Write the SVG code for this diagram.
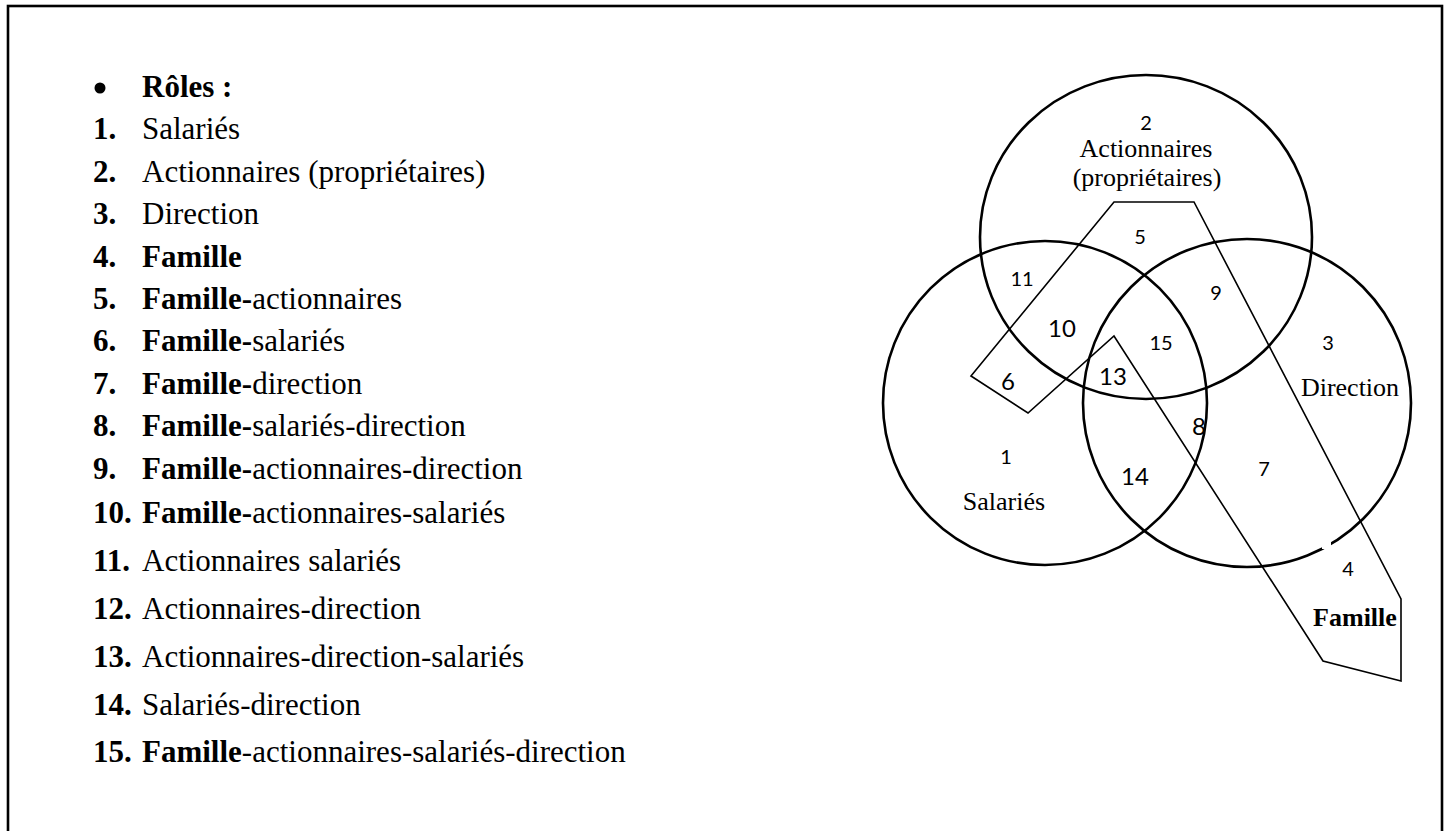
<svg xmlns="http://www.w3.org/2000/svg" width="1450" height="831" viewBox="0 0 1450 831">
  <style>
    .list { font-family: "Liberation Serif", "Times New Roman", serif; font-size: 31px; fill: #000; }
    .b { font-weight: bold; }
    .set { fill: none; stroke: #000; stroke-width: 2.6; }
    .fam { fill: none; stroke: #000; stroke-width: 1.6; stroke-linejoin: miter; }
    .num { font-family: Lato, "Liberation Sans", sans-serif; fill: #000; text-anchor: middle; }
    .sm { font-size: 20px; }
    .lg { font-size: 24px; }
    .name { font-family: "Liberation Serif", "Times New Roman", serif; font-size: 26px; fill: #000; text-anchor: middle; }
  </style>

  <rect width="1450" height="831" fill="#fff"/>
  <!-- page frame (bottom edge runs off the page) -->
  <rect x="8" y="6" width="1434" height="840" fill="none" stroke="#000" stroke-width="2.6"/>

  <!-- legend list -->
  <g id="legend" class="list">
    <circle cx="100" cy="88" r="5.5" fill="#000"/>
    <text x="142" y="97" class="b">Rôles :</text>
    <text y="139"><tspan x="93" class="b">1.</tspan><tspan x="142">Salariés</tspan></text>
    <text y="182"><tspan x="93" class="b">2.</tspan><tspan x="142">Actionnaires (propriétaires)</tspan></text>
    <text y="224"><tspan x="93" class="b">3.</tspan><tspan x="142">Direction</tspan></text>
    <text y="267"><tspan x="93" class="b">4.</tspan><tspan x="142" class="b">Famille</tspan></text>
    <text y="309"><tspan x="93" class="b">5.</tspan><tspan x="142" class="b">Famille-</tspan><tspan>actionnaires</tspan></text>
    <text y="351"><tspan x="93" class="b">6.</tspan><tspan x="142" class="b">Famille-</tspan><tspan>salariés</tspan></text>
    <text y="394"><tspan x="93" class="b">7.</tspan><tspan x="142" class="b">Famille-</tspan><tspan>direction</tspan></text>
    <text y="436"><tspan x="93" class="b">8.</tspan><tspan x="142" class="b">Famille-</tspan><tspan>salariés-direction</tspan></text>
    <text y="479"><tspan x="93" class="b">9.</tspan><tspan x="142" class="b">Famille-</tspan><tspan>actionnaires-direction</tspan></text>
    <text y="523"><tspan x="93" class="b">10.</tspan><tspan x="142" class="b">Famille-</tspan><tspan>actionnaires-salariés</tspan></text>
    <text y="571"><tspan x="93" class="b">11.</tspan><tspan x="142">Actionnaires salariés</tspan></text>
    <text y="619"><tspan x="93" class="b">12.</tspan><tspan x="142">Actionnaires-direction</tspan></text>
    <text y="667"><tspan x="93" class="b">13.</tspan><tspan x="142">Actionnaires-direction-salariés</tspan></text>
    <text y="715"><tspan x="93" class="b">14.</tspan><tspan x="142">Salariés-direction</tspan></text>
    <text y="762"><tspan x="93" class="b">15.</tspan><tspan x="142" class="b">Famille</tspan><tspan>-actionnaires-salariés-direction</tspan></text>
  </g>

  <!-- role sets -->
  <g id="set-actionnaires">
    <ellipse class="set" cx="1146" cy="237" rx="166" ry="162"/>
  </g>
  <g id="set-salaries">
    <circle class="set" cx="1045" cy="403" r="162"/>
  </g>
  <g id="set-direction">
    <circle class="set" cx="1247" cy="403" r="164"/>
    <!-- small break in the outline under the label 4 -->
    <rect x="1322" y="541" width="9" height="8" fill="#fff"/>
  </g>
  <g id="set-famille">
    <polygon class="fam" points="971,376 1114,202 1194,202 1401,599 1401,681 1323,661 1114,336 1028,413"/>
  </g>

  <!-- set names -->
  <g id="names">
    <text class="num sm" x="1146" y="130">2</text>
    <text class="name" x="1146" y="157">Actionnaires</text>
    <text class="name" x="1147" y="186">(propriétaires)</text>
    <text class="num sm" x="1328" y="350">3</text>
    <text class="name" x="1350" y="396">Direction</text>
    <text class="num sm" x="1006" y="464">1</text>
    <text class="name" x="1004" y="510">Salariés</text>
    <text class="num sm" x="1348" y="576">4</text>
    <text class="name" x="1355" y="626" font-weight="bold">Famille</text>
  </g>

  <!-- region numbers -->
  <g id="regions">
    <text class="num sm" x="1140" y="244">5</text>
    <text class="num sm" x="1022" y="286">11</text>
    <text class="num lg" x="1062" y="337">10</text>
    <text class="num lg" x="1008" y="390">6</text>
    <text class="num lg" x="1113" y="385">13</text>
    <text class="num sm" x="1161" y="350">15</text>
    <text class="num sm" x="1216" y="300">9</text>
    <text class="num lg" x="1199" y="435">8</text>
    <text class="num lg" x="1135" y="485">14</text>
    <text class="num sm" x="1264" y="476">7</text>
  </g>

  <!-- connectors: none in this figure -->
  <g id="connectors"/>
</svg>
